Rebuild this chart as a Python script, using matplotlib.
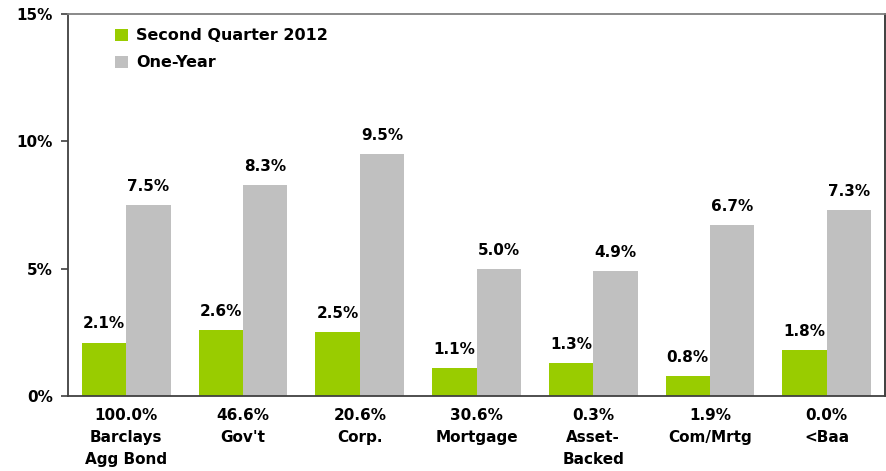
import matplotlib
matplotlib.use('Agg')
import matplotlib.pyplot as plt
import numpy as np

categories = ['100.0%\nBarclays\nAgg Bond', '46.6%\nGov\'t', '20.6%\nCorp.',
              '30.6%\nMortgage', '0.3%\nAsset-\nBacked', '1.9%\nCom/Mrtg', '0.0%\n<Baa']
second_quarter = [2.1, 2.6, 2.5, 1.1, 1.3, 0.8, 1.8]
one_year = [7.5, 8.3, 9.5, 5.0, 4.9, 6.7, 7.3]
yticks = [0, 5, 10, 15]

green = '#99CC00'
gray = '#C0C0C0'
fs = 11

plt.rcParams['font.family'] = ['DejaVu Sans']
plt.rcParams['font.weight'] = 'bold'

fig = plt.figure(figsize=(8.86, 4.71), dpi=100)
ax = fig.add_axes([68 / 886, 75 / 471, 817 / 886, 382 / 471])

x = np.arange(len(categories))
w = 0.38
b1 = ax.bar(x - w / 2, second_quarter, w, color=green, label='Second Quarter 2012')
b2 = ax.bar(x + w / 2, one_year, w, color=gray, label='One-Year')

for bars, vals in ((b1, second_quarter), (b2, one_year)):
    for rect, v in zip(bars, vals):
        ax.annotate(f'{v:.1f}%', (rect.get_x() + rect.get_width() / 2, rect.get_height()),
                    xytext=(0, 8), textcoords='offset points', ha='center', va='bottom',
                    fontsize=fs, fontweight='bold')

ax.set_xlim(-0.5, len(categories) - 0.5)
ax.set_ylim(0, 15)
ax.set_yticks(yticks)
ax.set_yticklabels([f'{t}%' for t in yticks], fontsize=fs, fontweight='bold')
ax.set_xticks(x)
ax.set_xticklabels(categories, fontsize=fs, fontweight='bold', linespacing=1.58)
ax.tick_params(axis='x', length=0, pad=9)
ax.tick_params(axis='y', length=5, width=1.2, color='#404040', pad=6)

ax.spines['left'].set_color('#404040')
ax.spines['bottom'].set_color('#404040')
ax.spines['right'].set_color('#303030')
ax.spines['top'].set_color('#808080')
for s in ax.spines.values():
    s.set_linewidth(1.3)

leg = ax.legend(loc='upper left', bbox_to_anchor=(0.04, 1.0), frameon=False,
                fontsize=fs + 0.5, handlelength=0.8, handleheight=0.8, handletextpad=0.5,
                labelspacing=0.75)
for t in leg.get_texts():
    t.set_fontweight('bold')

fig.savefig('out.png', dpi=100)
